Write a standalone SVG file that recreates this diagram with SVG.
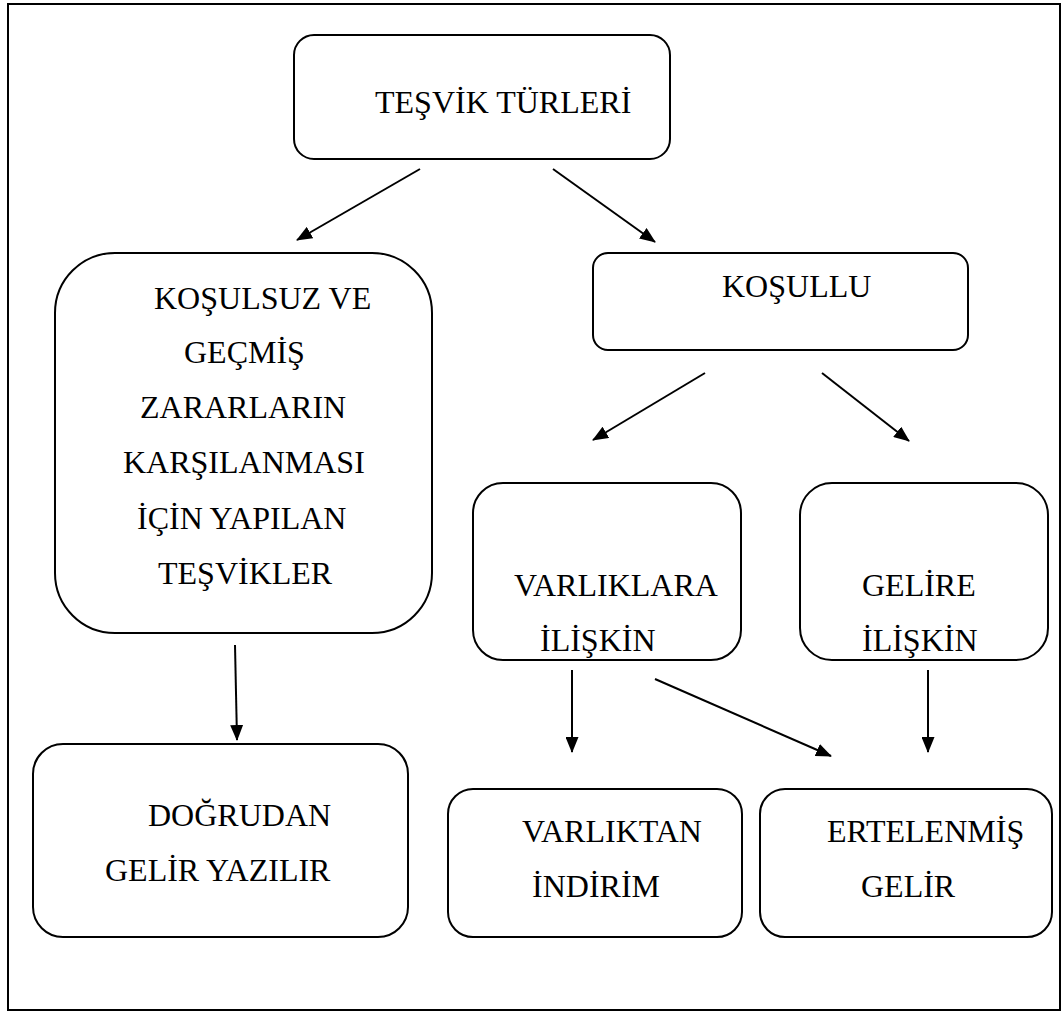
<svg xmlns="http://www.w3.org/2000/svg" width="1063" height="1015" viewBox="0 0 1063 1015">
<style>
.box{fill:#fff;stroke:#000;stroke-width:2}
text{font-family:'Liberation Serif','Times New Roman',serif;font-size:32px;fill:#000}
.c{stroke:#000;stroke-width:2;fill:none}
</style>
<defs>
<marker id="ah" viewBox="0 0 16 13" refX="15" refY="6.5" markerWidth="16" markerHeight="13" markerUnits="userSpaceOnUse" orient="auto">
<path d="M0,0 L16,6.5 L0,13 z" fill="#000"/>
</marker>
</defs>
<rect x="0" y="0" width="1063" height="1015" fill="#fff"/>
<rect x="8" y="4" width="1052" height="1006" fill="none" stroke="#000" stroke-width="2"/>
<g id="n-tesvik">
<rect class="box" x="294" y="35" width="376" height="124" rx="20"/>
<text x="375" y="113">TEŞVİK TÜRLERİ</text>
</g>
<g id="n-kosulsuz">
<rect class="box" x="55" y="253" width="377" height="380" rx="60"/>
<text x="154" y="309">KOŞULSUZ VE</text>
<text x="184" y="363">GEÇMİŞ</text>
<text x="140" y="418">ZARARLARIN</text>
<text x="123" y="473">KARŞILANMASI</text>
<text x="137" y="529">İÇİN YAPILAN</text>
<text x="158" y="584">TEŞVİKLER</text>
</g>
<g id="n-kosullu">
<rect class="box" x="593" y="253" width="375" height="97" rx="15"/>
<text x="722" y="297">KOŞULLU</text>
</g>
<g id="n-varliklara">
<rect class="box" x="473" y="483" width="268" height="177" rx="30"/>
<text x="514" y="596">VARLIKLARA</text>
<text x="540" y="651">İLİŞKİN</text>
</g>
<g id="n-gelire">
<rect class="box" x="800" y="483" width="248" height="177" rx="32"/>
<text x="862" y="596">GELİRE</text>
<text x="862" y="651">İLİŞKİN</text>
</g>
<g id="n-dogrudan">
<rect class="box" x="33" y="744" width="375" height="193" rx="30"/>
<text x="148" y="826">DOĞRUDAN</text>
<text x="105" y="881">GELİR YAZILIR</text>
</g>
<g id="n-varliktan">
<rect class="box" x="448" y="789" width="294" height="148" rx="25"/>
<text x="522" y="842">VARLIKTAN</text>
<text x="532" y="897">İNDİRİM</text>
</g>
<g id="n-ertelenmis">
<rect class="box" x="760" y="789" width="292" height="148" rx="25"/>
<text x="827" y="842">ERTELENMİŞ</text>
<text x="861" y="897">GELİR</text>
</g>
<g id="connectors">
<line class="c" x1="420" y1="169" x2="297" y2="240" marker-end="url(#ah)"/>
<line class="c" x1="553" y1="169" x2="655" y2="242" marker-end="url(#ah)"/>
<line class="c" x1="705" y1="373" x2="593" y2="440" marker-end="url(#ah)"/>
<line class="c" x1="822" y1="373" x2="909" y2="441" marker-end="url(#ah)"/>
<line class="c" x1="235" y1="645" x2="237" y2="740" marker-end="url(#ah)"/>
<line class="c" x1="572" y1="670" x2="572" y2="752" marker-end="url(#ah)"/>
<line class="c" x1="655" y1="679" x2="831" y2="756" marker-end="url(#ah)"/>
<line class="c" x1="928" y1="670" x2="928" y2="752" marker-end="url(#ah)"/>
</g>
</svg>
